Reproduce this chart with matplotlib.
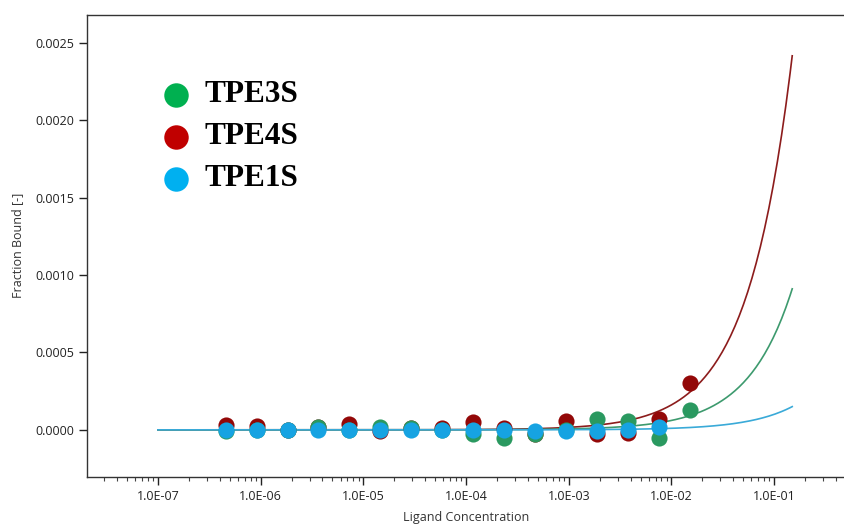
import numpy as np
import matplotlib.pyplot as plt
from matplotlib.ticker import FuncFormatter, FixedLocator, NullFormatter

# Ligand concentrations (2-fold dilution series, M)
conc = [4.58e-7, 9.16e-7, 1.83e-6, 3.66e-6, 7.32e-6, 1.46e-5, 2.93e-5, 5.86e-5,
        1.17e-4, 2.34e-4, 4.69e-4, 9.38e-4, 1.88e-3, 3.75e-3, 7.5e-3, 1.5e-2]

# Fraction bound
tpe4s = [0.00003, 0.000025, 0.00000, 0.00002, 0.00004, -0.00001, 0.00001, 0.00001,
         0.00005, 0.000015, -0.00003, 0.00006, -0.00003, -0.00002, 0.00007, 0.00030]
tpe3s = [-0.00001, 0.00000, 0.00000, 0.00002, 0.00000, 0.00002, 0.00001, 0.00000,
         -0.00003, -0.00005, -0.00003, 0.00000, 0.00007, 0.00006, -0.00005, 0.00013]
tpe1s = [0.00000, 0.00000, 0.00000, 0.00000, 0.00000, 0.00000, 0.00000, 0.00000,
         0.00000, 0.00000, -0.00001, -0.00001, -0.00001, 0.00000, 0.00002]

# Fit slopes (fraction bound per M, Kd >> c so the fit is ~linear)
fit_slope = {'TPE4S': 0.0161, 'TPE3S': 0.00607, 'TPE1S': 0.00100}
fit_range = [1e-7, 0.15]

decades = [1e-7, 1e-6, 1e-5, 1e-4, 1e-3, 1e-2, 1e-1]

dot_colors = {'TPE3S': '#2a9960', 'TPE4S': '#930808', 'TPE1S': '#16a3e2'}
line_colors = {'TPE3S': '#3d9a6e', 'TPE4S': '#8c1c1c', 'TPE1S': '#3aaad8'}
legend_colors = {'TPE3S': '#00b050', 'TPE4S': '#c00000', 'TPE1S': '#00b0f0'}

fig = plt.figure(figsize=(8.45, 5.27), dpi=100)
ax = fig.add_axes([0.103, 0.095, 0.897, 0.877])

# fitted curves
xc = np.geomspace(fit_range[0], fit_range[1], 300)
for name in ['TPE4S', 'TPE3S', 'TPE1S']:
    ax.plot(xc, fit_slope[name] * xc, color=line_colors[name], lw=1.2, zorder=2)

# data points
ax.scatter(conc, tpe4s, s=135, color=dot_colors['TPE4S'], zorder=3, linewidths=0)
ax.scatter(conc, tpe3s, s=135, color=dot_colors['TPE3S'], zorder=4, linewidths=0)
ax.scatter(conc[:len(tpe1s)], tpe1s, s=135, color=dot_colors['TPE1S'], zorder=5, linewidths=0)

ax.set_xscale('log')
ax.set_xlim(10 ** -7.69, 10 ** -0.31)
ax.set_ylim(-0.000304, 0.00268)

minor = [m * d for d in [1e-8] + decades for m in range(2, 10)]
ax.xaxis.set_major_locator(FixedLocator(decades))
ax.xaxis.set_minor_locator(FixedLocator(minor))
ax.xaxis.set_minor_formatter(NullFormatter())
ax.xaxis.set_major_formatter(FuncFormatter(lambda v, p: f'{v:.1E}'))
ax.set_yticks([0, 0.0005, 0.001, 0.0015, 0.002, 0.0025])
ax.yaxis.set_major_formatter(FuncFormatter(lambda v, p: f'{v:.4f}'))

ax.tick_params(axis='both', which='major', direction='out', length=6, width=1,
               labelsize=9, colors='#222222')
ax.tick_params(axis='x', which='minor', direction='out', length=3, width=0.8, colors='#444444')
for lab in ax.get_xticklabels() + ax.get_yticklabels():
    lab.set_family('Open Sans')

ax.spines['right'].set_visible(False)
for s in ['left', 'bottom', 'top']:
    ax.spines[s].set_color('#333333')
    ax.spines[s].set_linewidth(1)

ax.set_xlabel('Ligand Concentration', fontsize=9, family='Open Sans', color='#333333', labelpad=6)
ax.set_ylabel('Fraction Bound [-]', fontsize=9, family='Open Sans', color='#333333', labelpad=8)

# custom legend
for i, name in enumerate(['TPE3S', 'TPE4S', 'TPE1S']):
    yy = 0.827 - i * 0.091
    ax.scatter([0.117], [yy], s=310, color=legend_colors[name], transform=ax.transAxes,
               linewidths=0, clip_on=False, zorder=6)
    ax.text(0.155, yy, name, transform=ax.transAxes, fontsize=22.5, fontweight='bold',
            family='Liberation Serif', va='center', ha='left')

fig.savefig('out.png', dpi=100)
